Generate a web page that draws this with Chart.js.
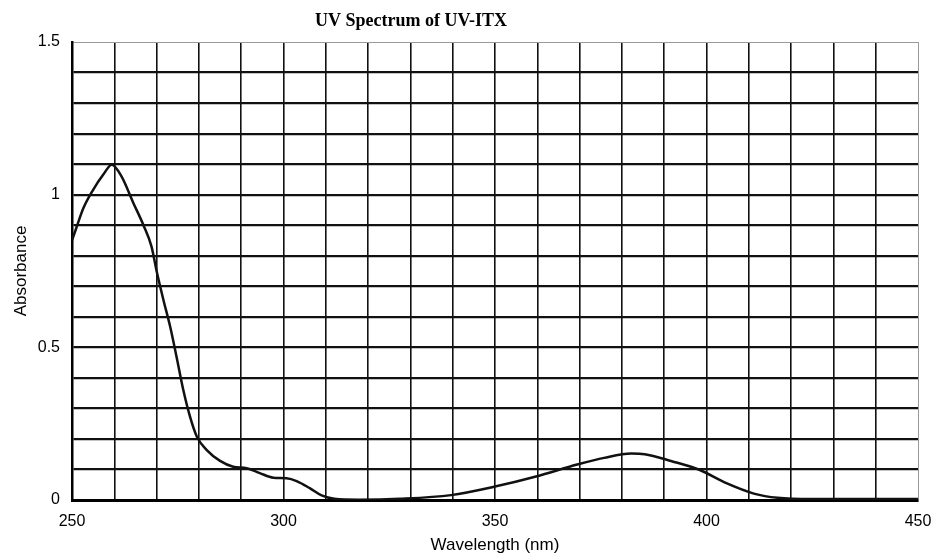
<!DOCTYPE html>
<html>
<head>
<meta charset="utf-8">
<script src="https://cdn.jsdelivr.net/npm/chart.js@4.4.1/dist/chart.umd.min.js"></script>
<style>
  html, body { margin: 0; padding: 0; background: #ffffff; }
  #wrap { width: 933px; height: 559px; }
</style>
</head>
<body>
<div id="wrap"><canvas id="c" width="933" height="559"></canvas></div>
<script>
// ---- data ----
const chartTitle = 'UV Spectrum of UV-ITX';
const xAxisTitle = 'Wavelength (nm)';
const yAxisTitle = 'Absorbance';

const wavelengths = [250, 251, 252.7, 255, 257.4, 259.4, 261.7, 264.5, 266.9, 268.8, 270, 271.6, 273.2, 274.7, 276.3, 277.9, 279.5, 281.8, 285, 288.1, 291.3, 294.4, 297.6, 300.7, 303.1, 306.3, 309, 312, 318, 327.5, 339.6, 350, 359.7, 369.4, 375.8, 382.2, 385.4, 391.8, 398.3, 404.7, 411.2, 416.8, 425, 450];
const absorbance  = [0.85, 0.89, 0.956, 1.016, 1.066, 1.098, 1.06, 0.973, 0.9, 0.83, 0.75, 0.656, 0.568, 0.47, 0.361, 0.273, 0.208, 0.164, 0.128, 0.109, 0.104, 0.088, 0.073, 0.071, 0.062, 0.038, 0.015, 0.004, 0.001, 0.004, 0.016, 0.044, 0.077, 0.116, 0.138, 0.152, 0.150, 0.127, 0.099, 0.055, 0.021, 0.007, 0.003, 0.003];

const xTickValues = [250, 300, 350, 400, 450];
const xTickLabels = ['250', '300', '350', '400', '450'];
const yTickValues = [0, 0.5, 1, 1.5];
const yTickLabels = ['0', '0.5', '1', '1.5'];

const points = wavelengths.map((w, i) => ({ x: w, y: absorbance[i] }));

const titlePlugin = {
  id: 'offsetTitle',
  afterDraw(chart) {
    const ctx = chart.ctx;
    ctx.save();
    ctx.font = 'bold 18px "Liberation Serif", "Times New Roman", serif';
    ctx.fillStyle = '#000';
    ctx.textAlign = 'center';
    ctx.textBaseline = 'middle';
    ctx.fillText(chartTitle, 411, 21);
    ctx.restore();
  }
};

const sansFont = '"Liberation Sans", Arial, sans-serif';

new Chart(document.getElementById('c'), {
  type: 'line',
  data: {
    datasets: [{
      data: points,
      borderColor: '#111',
      borderWidth: 2.5,
      pointRadius: 0,
      fill: false,
      cubicInterpolationMode: 'monotone'
    }]
  },
  options: {
    responsive: false,
    animation: false,
    devicePixelRatio: 1,
    layout: { padding: { top: 42, right: 15, left: 0, bottom: 0 } },
    plugins: {
      legend: { display: false },
      title: { display: false },
      tooltip: { enabled: false }
    },
    scales: {
      x: {
        type: 'linear',
        min: 250,
        max: 450,
        afterFit: s => { s.height = 59; s.paddingLeft = 0; s.paddingRight = 0; },
        ticks: {
          stepSize: 10,
          autoSkip: false,
          maxRotation: 0,
          padding: 12,
          color: '#000',
          font: { family: sansFont, size: 16 },
          callback: v => {
            const i = xTickValues.indexOf(Math.round(v));
            return i >= 0 ? xTickLabels[i] : '';
          }
        },
        grid: {
          drawTicks: false,
          color: c => (c.tick && c.tick.value === 450) ? '#9a9a9a' : '#111',
          lineWidth: c => (c.tick && c.tick.value === 450) ? 1 : 1.6,
          borderDash: c => (c.tick && c.tick.value === 450) ? [2, 2] : []
        },
        border: { color: '#000', width: 3 },
        title: {
          display: true,
          text: xAxisTitle,
          color: '#000',
          font: { family: sansFont, size: 17 },
          padding: { top: 0, bottom: 3 }
        }
      },
      y: {
        min: 0,
        max: 1.5,
        afterFit: s => { s.width = 72; s.paddingTop = 0; s.paddingBottom = 0; },
        ticks: {
          stepSize: 0.1,
          autoSkip: false,
          padding: 12,
          color: '#000',
          font: { family: sansFont, size: 16 },
          callback: v => {
            const i = yTickValues.indexOf(Math.round(v * 10) / 10);
            return i >= 0 ? yTickLabels[i] : '';
          }
        },
        grid: {
          drawTicks: false,
          color: c => (c.tick && Math.abs(c.tick.value - 1.5) < 1e-6) ? '#9a9a9a' : '#111',
          lineWidth: c => (c.tick && Math.abs(c.tick.value - 1.5) < 1e-6) ? 1 : 2.2,
          borderDash: c => (c.tick && Math.abs(c.tick.value - 1.5) < 1e-6) ? [2, 2] : []
        },
        border: { color: '#000', width: 2.5 },
        title: {
          display: true,
          text: yAxisTitle,
          color: '#000',
          font: { family: sansFont, size: 17 },
          padding: { top: 11, bottom: 0 }
        }
      }
    }
  },
  plugins: [titlePlugin]
});
</script>
</body>
</html>
